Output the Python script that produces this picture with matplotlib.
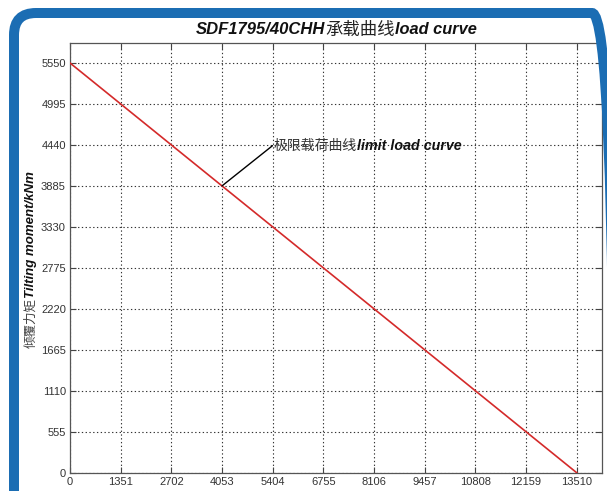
import matplotlib
matplotlib.use("Agg")
import matplotlib.pyplot as plt
from matplotlib.patches import FancyBboxPatch
from matplotlib.transforms import IdentityTransform

# data
load_x = [0, 13510]
moment_y = [5550, 0]
x_ticks = [0, 1351, 2702, 4053, 5404, 6755, 8106, 9457, 10808, 12159, 13510]
y_ticks = [0, 555, 1110, 1665, 2220, 2775, 3330, 3885, 4440, 4995, 5550]
annot_point = (4053, 3885)
annot_text_pos = (5400, 4430)

EN = ["Liberation Sans", "DejaVu Sans"]
CJK = ["Noto Sans CJK SC", "DejaVu Sans"]


def main() -> None:
    W, H = 607.0, 491.0
    fig = plt.figure(figsize=(W / 100, H / 100), dpi=100)
    fig.patch.set_facecolor("white")

    # blue rounded frame (pixel coords, origin bottom-left)
    frame = FancyBboxPatch((14, -60), 614 - 14, (H - 13) + 60,
                           boxstyle="round,pad=0,rounding_size=22",
                           transform=IdentityTransform(), facecolor="none",
                           edgecolor="#1b6db3", linewidth=7.2, zorder=0)
    fig.patches.append(frame)

    ax = fig.add_axes([70 / W, 18.3 / H, 532 / W, 430.2 / H])
    ax.plot(load_x, moment_y, color="#d42a2a", linewidth=1.2, zorder=3)

    ax.set_xlim(0, load_x[-1] * 1.05)
    ax.set_ylim(0, moment_y[0] * 1.05)
    ax.set_xticks(x_ticks)
    ax.set_yticks(y_ticks)
    ax.grid(True, linestyle=(0, (1.2, 2.2)), color="#333333", linewidth=0.8)
    ax.tick_params(direction="in", length=4, width=0.8, color="#444444",
                   top=True, right=True, labelsize=8, labelcolor="#333333", pad=3)
    for lab in ax.get_xticklabels() + ax.get_yticklabels():
        lab.set_family(EN)
    for s in ax.spines.values():
        s.set_color("#555555")
        s.set_linewidth(0.9)

    # title: english bold italic + chinese
    t_mid = fig.text(360 / W, 1 - 30 / H, "承载曲线", family=CJK, fontsize=12.5,
                     ha="center", va="center", color="#222222", style="italic")
    ax.annotate("SDF1795/40CHH", xy=(0, 0.5), xycoords=t_mid, ha="right", va="center",
                family=EN, fontsize=12, fontweight="bold", style="italic", color="#111111",
                annotation_clip=False)
    ax.annotate("load curve", xy=(1, 0.5), xycoords=t_mid, ha="left", va="center",
                family=EN, fontsize=11.8, fontweight="bold", style="italic", color="#111111",
                annotation_clip=False)

    # y label
    y_cn = fig.text(31 / W, 1 - 323 / H, "倾覆力矩", family=CJK, fontsize=9,
                    rotation=90, ha="center", va="center", color="#444444", style="italic")
    ax.annotate("Tilting moment/kNm", xy=(0.5, 1), xycoords=y_cn, ha="center", va="bottom",
                rotation=90, family=EN, fontsize=9.5, fontweight="bold", style="italic",
                color="#111111", annotation_clip=False)

    # x label, cut off at the bottom edge as in the source
    fig.text(300 / W, -8 / H, "轴向力Axial load/kN", family=CJK, fontsize=9,
             ha="center", va="center", color="#333333")

    # limit load curve annotation
    ax.annotate("", xy=annot_point, xytext=annot_text_pos, textcoords="data",
                arrowprops=dict(arrowstyle="-", color="black", lw=1.0,
                                shrinkA=0, shrinkB=0))
    a_cn = ax.text(annot_text_pos[0] + 20, annot_text_pos[1], "极限载荷曲线",
                   ha="left", va="center", family=CJK, fontsize=10,
                   style="italic", color="#333333")
    ax.annotate("limit load curve", xy=(1, 0.5), xycoords=a_cn, ha="left", va="center",
                family=EN, fontsize=10.3, fontweight="bold", style="italic", color="#111111",
                annotation_clip=False)

    fig.savefig("out.png", dpi=100)


if __name__ == "__main__":
    main()
